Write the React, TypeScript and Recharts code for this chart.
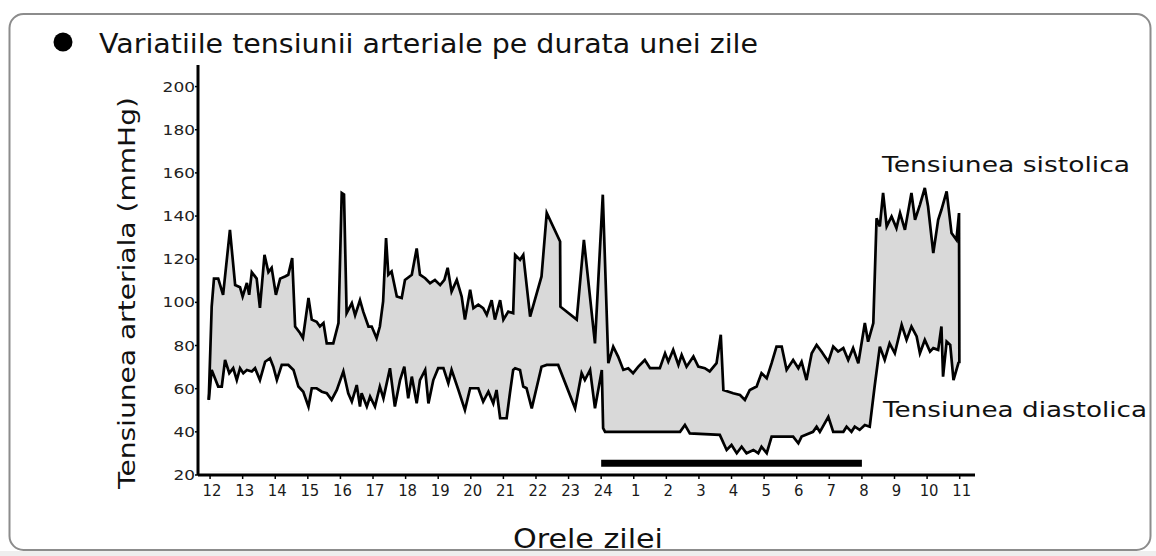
import React from 'react';
import { ComposedChart, Area, Line, XAxis, YAxis, ReferenceLine } from 'recharts';

// continuous hour of day: 24 = midnight, 25 = 1 AM, ... 35 = 11 AM
const hourTicks = [12, 13, 14, 15, 16, 17, 18, 19, 20, 21, 22, 23, 24, 25, 26, 27, 28, 29, 30, 31, 32, 33, 34, 35];
const hourLabels = ['12', '13', '14', '15', '16', '17', '18', '19', '20', '21', '22', '23', '24', '1', '2', '3', '4', '5', '6', '7', '8', '9', '10', '11'];
const yTicks = [20, 40, 60, 80, 100, 120, 140, 160, 180, 200];

const sysTime = [
  11.96, 12.05, 12.12, 12.25, 12.40, 12.61, 12.77, 12.92, 13.00, 13.13, 13.20, 13.28, 13.43, 13.53, 13.67, 13.79, 13.89,
  14.02, 14.15, 14.30, 14.40, 14.52, 14.61, 14.76, 14.85, 15.02, 15.12, 15.27, 15.37, 15.48, 15.58, 15.78, 15.94,
  16.04, 16.11, 16.19, 16.35, 16.45, 16.60, 16.70, 16.86, 16.96, 17.11, 17.21, 17.31, 17.40, 17.47, 17.57, 17.73,
  17.88, 17.98, 18.19, 18.34, 18.44, 18.60, 18.75, 18.90, 19.06, 19.19, 19.29, 19.41, 19.57, 19.72, 19.82, 19.98,
  20.08, 20.23, 20.38, 20.49, 20.64, 20.74, 20.90, 21.00, 21.15, 21.30, 21.36, 21.51, 21.61, 21.82, 22.17, 22.33,
  22.74, 22.75, 23.25, 23.47, 23.81, 24.05, 24.22, 24.37, 24.52, 24.68, 24.83, 24.98, 25.14, 25.34, 25.50, 25.80,
  25.96, 26.06, 26.21, 26.37, 26.47, 26.62, 26.83, 26.98, 27.18, 27.33, 27.54, 27.67, 27.75, 28.05, 28.26, 28.41,
  28.56, 28.77, 28.92, 29.08, 29.23, 29.38, 29.54, 29.69, 29.89, 30.05, 30.15, 30.30, 30.46, 30.61, 30.76, 30.97,
  31.12, 31.27, 31.43, 31.58, 31.73, 31.89, 32.09, 32.19, 32.35, 32.45, 32.55, 32.65, 32.76, 32.91, 33.06, 33.17,
  33.32, 33.52, 33.63, 33.78, 33.93, 34.03, 34.19, 34.34, 34.44, 34.60, 34.75, 34.90, 34.98, 34.99,
];
const sysValue = [
  54.8, 98, 111, 111, 103.5, 133.6, 108, 107, 102.7, 109, 103.5, 114, 111, 97.5, 122, 114, 116,
  103.5, 111, 112, 112.8, 120.5, 88.8, 85.8, 83.5, 102, 92, 91, 88.8, 90.4, 81, 81, 90.4,
  150.7, 150, 95, 99.6, 94, 101, 95.7, 88.8, 88.8, 83.4, 88.8, 100.4, 129.8, 112.8, 114.3, 102.7,
  102, 110.4, 112.8, 125, 112.8, 111.2, 108.9, 110.4, 108, 110.4, 116, 105, 110.4, 102.7, 92, 105.8,
  97.3, 98.9, 97.3, 94.2, 101, 92, 101, 92, 95.7, 95, 122, 119.7, 122, 93.4, 112, 141.4,
  128.2, 98, 92, 129, 81, 149.9, 71.8, 79.5, 74.9, 68.7, 69.5, 67.2, 70.2, 73.3, 69.5, 69.5,
  76.4, 72.5, 78, 71, 75.7, 70.2, 74.9, 70.2, 69.5, 68, 71.8, 85, 59.4, 57.9, 57.1, 54.8,
  59.4, 61, 67.2, 64.8, 71.8, 79.5, 79.5, 68.7, 73.3, 69.5, 72.5, 64, 76.4, 80.3, 77.2, 72.5,
  79.5, 77.2, 78.8, 73.3, 78.8, 71.8, 90.4, 81.8, 90.4, 139, 135.2, 150.7, 135.2, 139.8, 134.4, 141.4,
  133.6, 150.7, 138.3, 145.2, 153, 144.4, 122.8, 138.3, 142.9, 151.4, 132.1, 129, 141.4, 71.8,
];

const diaTime = [
  11.96, 12.05, 12.15, 12.25, 12.36, 12.46, 12.59, 12.71, 12.82, 12.92, 13.02, 13.13, 13.28, 13.38, 13.53, 13.69,
  13.84, 13.94, 14.05, 14.20, 14.40, 14.56, 14.71, 14.86, 15.02, 15.12, 15.27, 15.43, 15.58, 15.73, 15.89, 16.09,
  16.24, 16.35, 16.50, 16.60, 16.65, 16.81, 16.91, 17.06, 17.21, 17.32, 17.52, 17.67, 17.83, 17.96, 18.08, 18.19,
  18.34, 18.44, 18.60, 18.70, 18.85, 19.00, 19.16, 19.31, 19.41, 19.62, 19.82, 19.98, 20.23, 20.38, 20.54, 20.69,
  20.79, 20.90, 21.10, 21.20, 21.30, 21.36, 21.51, 21.61, 21.71, 21.87, 22.17, 22.33, 22.68, 23.20, 23.40, 23.50,
  23.66, 23.81, 24.02, 24.06, 24.12, 26.42, 26.57, 26.72, 27.64, 27.85, 28.00, 28.16, 28.31, 28.46, 28.67, 28.82,
  28.92, 29.08, 29.23, 29.89, 30.05, 30.15, 30.50, 30.61, 30.71, 30.97, 31.12, 31.43, 31.53, 31.68, 31.78, 31.93,
  32.09, 32.24, 32.39, 32.55, 32.70, 32.85, 33.01, 33.22, 33.37, 33.52, 33.68, 33.78, 33.93, 34.09, 34.19, 34.34,
  34.44, 34.49, 34.60, 34.71, 34.81, 34.96, 34.99,
];
const diaValue = [
  54.8, 68.7, 64.8, 61, 61, 73.3, 67.2, 69.5, 64, 69.5, 67.2, 68.7, 68, 69.5, 64, 72.5,
  74.1, 70.2, 64, 71, 71, 68.7, 61, 58.6, 51.7, 60.2, 60.2, 58.6, 57.9, 54.8, 59.4, 68,
  57.9, 54, 61.7, 51.7, 57.9, 51.7, 56.3, 51.7, 61, 55.5, 69.5, 51.7, 64, 70.2, 55.5, 65.6,
  53.2, 64, 68.7, 53.2, 64, 69.5, 69.5, 62.5, 68.7, 59.4, 50.1, 60.2, 60.2, 54, 58.6, 53.2,
  59.4, 46.3, 46.3, 57.9, 68.7, 69.5, 68.7, 61, 60.2, 50.9, 70.2, 71, 71, 50.9, 67.2, 64,
  68.7, 50.9, 68.7, 41.7, 40, 40, 43.2, 39.3, 38.6, 31.6, 33.9, 30.1, 33.1, 30.1, 31.6, 30.1,
  33.1, 30.1, 37.8, 37.8, 34.7, 37.8, 40, 42.4, 40, 47, 40, 40, 42.4, 40, 42.4, 40.9,
  43.2, 42.4, 61, 79.5, 73.3, 81, 76.4, 89.6, 82.6, 88.8, 84.2, 76.4, 82.6, 77.2, 78.8, 78,
  88.8, 65.6, 81.8, 80.3, 64, 71.8, 71.8,
];

// sleep period bar (24 -> 8)
const sleepStart = 24;
const sleepEnd = 32;
const sleepLevel = 25.5;
const fillBase = 21.5;

const sysData = sysTime.map((t, i) => ({ t, v: sysValue[i] }));
const diaData = diaTime.map((t, i) => ({ t, v: diaValue[i] }));
const firstT = sysTime[0];
const lastT = sysTime[sysTime.length - 1];
const firstV = Math.min(sysValue[0], diaValue[0]);
const lastV = Math.min(sysValue[sysValue.length - 1], diaValue[diaValue.length - 1]);

const FONT = 'DejaVu Sans, Verdana, sans-serif';

const YTick = (props: any) => {
  const { x, y, payload } = props;
  const s = String(payload.value);
  return (
    <text x={x} y={y} dy={5} textAnchor="end" fontSize={14} fill="#222" fontFamily={FONT}
      textLength={s.length * 10.8} lengthAdjust="spacingAndGlyphs">{s}</text>
  );
};

const XTick = (props: any) => {
  const { x, y, payload } = props;
  const idx = hourTicks.indexOf(payload.value);
  const s = idx >= 0 ? hourLabels[idx] : String(payload.value);
  return (
    <text x={x + 2} y={y} dy={12} textAnchor="middle" fontSize={16.5} fill="#1a1a1a"
      fontFamily="DejaVu Sans Condensed, DejaVu Sans, sans-serif">{s}</text>
  );
};

export default function App() {
  return (
    <div style={{ position: 'absolute', left: 0, top: 0, width: 1156, height: 556, background: '#fff' }}>
      <ComposedChart width={1156} height={556} margin={{ top: 65, right: 181, bottom: 31, left: 138 }}>
        <XAxis dataKey="t" type="number" domain={[11.63, 35.47]} ticks={hourTicks} interval={0}
          allowDataOverflow axisLine={{ stroke: '#000', strokeWidth: 3 }}
          tickLine={{ stroke: '#000', strokeWidth: 1.5 }} tickSize={4} tickMargin={5}
          tick={<XTick />} height={50} />
        <YAxis type="number" domain={[20, 210]} ticks={yTicks} interval={0} allowDataOverflow
          axisLine={{ stroke: '#000', strokeWidth: 3 }} tickLine={{ stroke: '#000', strokeWidth: 1.5 }}
          tickSize={3} tickMargin={0} tick={<YTick />} width={60} />
        <Area data={sysData} dataKey="v" type="linear" fill="#d9d9d9" fillOpacity={1} stroke="none"
          baseValue={fillBase} isAnimationActive={false} />
        <Area data={diaData} dataKey="v" type="linear" fill="#ffffff" fillOpacity={1} stroke="none"
          baseValue={fillBase} isAnimationActive={false} />
        <ReferenceLine segment={[{ x: firstT, y: fillBase }, { x: firstT, y: firstV - 1.5 }]}
          stroke="#ffffff" strokeWidth={3} />
        <ReferenceLine segment={[{ x: lastT, y: fillBase }, { x: lastT, y: lastV - 1.5 }]}
          stroke="#ffffff" strokeWidth={3} />
        <Line data={sysData} dataKey="v" type="linear" stroke="#000" strokeWidth={2.7} dot={false}
          isAnimationActive={false} />
        <Line data={diaData} dataKey="v" type="linear" stroke="#000" strokeWidth={2.7} dot={false}
          isAnimationActive={false} />
        <ReferenceLine segment={[{ x: sleepStart, y: sleepLevel }, { x: sleepEnd, y: sleepLevel }]}
          stroke="#000" strokeWidth={7} />
      </ComposedChart>
      <svg width={1156} height={556} style={{ position: 'absolute', left: 0, top: 0, pointerEvents: 'none' }}>
        <rect x={0} y={551} width={1156} height={5} fill="#eeeeee" />
        <rect x={9.5} y={14} width={1141} height={536} rx={14} ry={14} fill="none" stroke="#8c8c8c" strokeWidth={2} />
        <circle cx={63} cy={42} r={9.5} fill="#000" />
        <text x={99} y={53} fontSize={26} fill="#111" fontFamily={FONT} textLength={659}
          lengthAdjust="spacingAndGlyphs">Variatiile tensiunii arteriale pe durata unei zile</text>
        <text x={135} y={293} fontSize={23} fill="#111" fontFamily={FONT} textAnchor="middle"
          transform="rotate(-90 135 293)" textLength={392} lengthAdjust="spacingAndGlyphs">Tensiunea arteriala (mmHg)</text>
        <text x={588} y={548} fontSize={26} fill="#111" fontFamily="DejaVu Sans Condensed, DejaVu Sans, sans-serif"
          textAnchor="middle" textLength={150} lengthAdjust="spacingAndGlyphs">Orele zilei</text>
        <text x={882} y={172} fontSize={22} fill="#111" fontFamily={FONT} textLength={248}
          lengthAdjust="spacingAndGlyphs">Tensiunea sistolica</text>
        <text x={883} y={417} fontSize={22} fill="#111" fontFamily={FONT} textLength={264}
          lengthAdjust="spacingAndGlyphs">Tensiunea diastolica</text>
      </svg>
    </div>
  );
}
